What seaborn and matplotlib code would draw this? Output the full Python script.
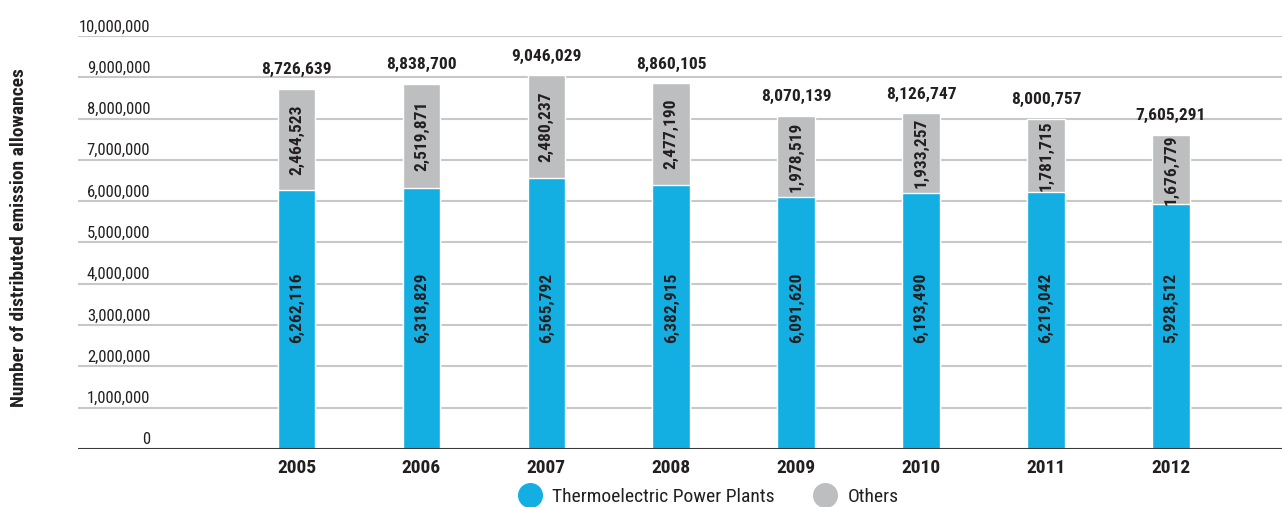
import seaborn as sns
import matplotlib.pyplot as plt
import pandas as pd
from matplotlib import font_manager

# Data
years = ['2005', '2006', '2007', '2008', '2009', '2010', '2011', '2012']
thermo = [6262116, 6318829, 6565792, 6382915, 6091620, 6193490, 6219042, 5928512]
others = [2464523, 2519871, 2480237, 2477190, 1978519, 1933257, 1781715, 1676779]
totals = [8726639, 8838700, 9046029, 8860105, 8070139, 8126747, 8000757, 7605291]
yticks = [0, 1000000, 2000000, 3000000, 4000000, 5000000, 6000000, 7000000, 8000000, 9000000, 10000000]

blue = '#13AFE3'
grey = '#BDBEC0'
txt = '#231F20'

sns.set_style('white')

# pick a narrow face if one is around
installed = {f.name for f in font_manager.fontManager.ttflist}
narrow = [n for n in ['Roboto Condensed', 'Liberation Sans Narrow', 'DejaVu Sans Condensed',
                      'Open Sans Condensed', 'Noto Sans Condensed'] if n in installed]
plt.rcParams['font.family'] = narrow + ['DejaVu Sans']
plt.rcParams['font.stretch'] = 'condensed'
scale = 1.0 if narrow else 0.85

df = pd.DataFrame({'year': years, 'thermo': thermo, 'others': others, 'total': totals})

fig = plt.figure(figsize=(12.82, 5.07), dpi=100)
ax = fig.add_axes([0.0608, 0.1144, 0.9392, 0.8146])

sns.barplot(data=df, x='year', y='total', color=grey, width=0.3, saturation=1, ax=ax)
sns.barplot(data=df, x='year', y='thermo', color=blue, width=0.3, saturation=1, ax=ax)

ax.set_xlim(-1.75, 7.89)
ax.set_ylim(0, 10000000)

# grid lines and y labels drawn just above the lines
for v in yticks[1:]:
    ax.axhline(v, color='#C8C8C8', lw=1.5, zorder=0)
ax.axhline(0, color='#3a3a3a', lw=1.5, zorder=3)
for v in yticks:
    ax.text(0.06, v + 40000, f'{v:,}', transform=ax.get_yaxis_transform(),
            ha='right', va='bottom', fontsize=12 * scale, color=txt)

ax.set_yticks([])
ax.set_ylabel('')
ax.set_xlabel('')
fig.text(0.015, 0.532, 'Number of distributed emission allowances', rotation=90,
         ha='center', va='center', fontsize=14 * scale, fontweight='bold', color=txt)
ax.tick_params(axis='x', length=0, pad=7)
for lab in ax.get_xticklabels():
    lab.set_fontsize(14 * scale)
    lab.set_fontweight('bold')
    lab.set_color(txt)
sns.despine(ax=ax, left=True, top=True, right=True, bottom=True)

for i in range(len(years)):
    ax.text(i, totals[i] + 280000, f'{totals[i]:,}', ha='center', va='bottom',
            fontsize=12.5 * scale, fontweight='bold', color=txt)
    ax.text(i, thermo[i] + others[i] / 2, f'{others[i]:,}', ha='center', va='center',
            rotation=90, fontsize=12.5 * scale, fontweight='bold', color=txt)
    ax.text(i, 3420000, f'{thermo[i]:,}', ha='center', va='center',
            rotation=90, fontsize=12.5 * scale, fontweight='bold', color=txt)

# legend
h1 = plt.Line2D([], [], marker='o', ls='', markersize=17, color=blue)
h2 = plt.Line2D([], [], marker='o', ls='', markersize=17, color=grey)
fig.legend([h1, h2], ['Thermoelectric Power Plants', 'Others'], loc='center',
           bbox_to_anchor=(0.5495, 0.02), ncol=2, frameon=False, fontsize=14 * scale,
           handletextpad=0.15, columnspacing=1.6, labelcolor=txt)

fig.savefig('out.png', dpi=100)
